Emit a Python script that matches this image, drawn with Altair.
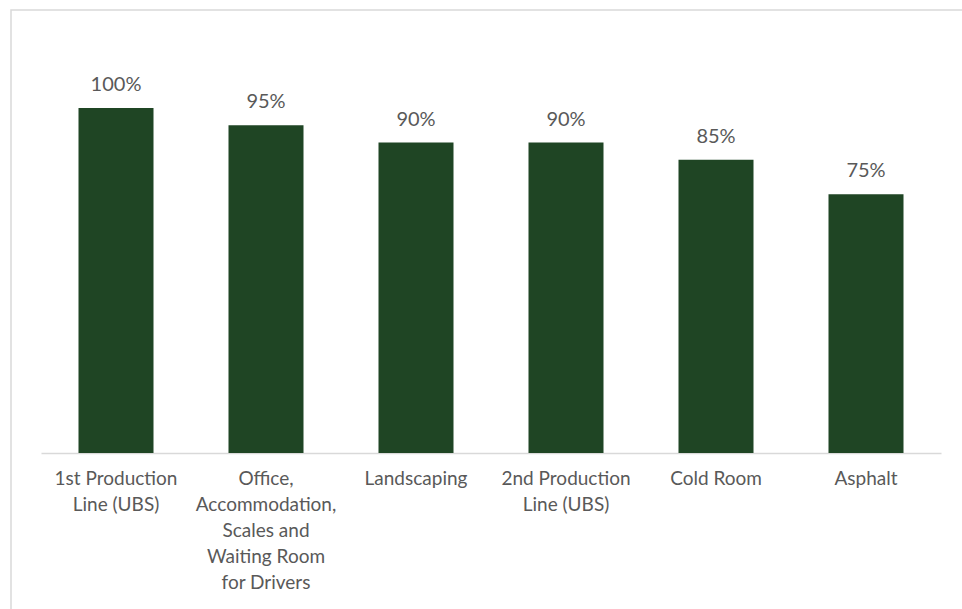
import altair as alt
import pandas as pd

categories = ["1st Production Line (UBS)",
              "Office, Accommodation, Scales and Waiting Room for Drivers",
              "Landscaping", "2nd Production Line (UBS)", "Cold Room", "Asphalt"]
label_lines = ["1st Production|Line (UBS)",
               "Office,|Accommodation,|Scales and|Waiting Room|for Drivers",
               "Landscaping", "2nd Production|Line (UBS)", "Cold Room", "Asphalt"]
values = [1.00, 0.95, 0.90, 0.90, 0.85, 0.75]

df = pd.DataFrame({"cat": categories, "val": values, "lab": label_lines})

label_map = {c: l for c, l in zip(categories, label_lines)}
expr = "split(" + str(label_map).replace("'", '"') + "[datum.value], '|')"

FONT = "Lato"
GREY = "#595959"

x = alt.X("cat:N", sort=categories, title=None,
          scale=alt.Scale(paddingInner=0.5, paddingOuter=0.25),
          axis=alt.Axis(labelExpr=expr, labelAngle=0, labelFont=FONT,
                        labelFontSize=19, labelColor=GREY, labelLineHeight=26,
                        labelPadding=16, ticks=False, domainColor="#d9d9d9",
                        domainWidth=1.5, labelLimit=300, labelBaseline="top"))
y = alt.Y("val:Q", title=None, scale=alt.Scale(domain=[0, 1.2], nice=False),
          axis=None)

border = alt.Chart(pd.DataFrame({"a": [0]})).mark_rect(
    fill=None, stroke="#d9d9d9", strokeWidth=1.5
).encode(x=alt.value(-30), x2=alt.value(935), y=alt.value(-29), y2=alt.value(600))

bars = alt.Chart(df).mark_bar(color="#1F4524").encode(x=x, y=y)
text = alt.Chart(df).mark_text(dy=-17, baseline="alphabetic", font=FONT,
                               fontSize=20, color=GREY).encode(
    x=alt.X("cat:N", sort=categories), y="val:Q",
    text=alt.Text("val:Q", format=".0%"))

chart = alt.layer(border, bars, text).properties(
    width=900, height=414,
    autosize=alt.AutoSizeParams(type="none"),
    padding={"left": 41, "top": 39, "right": 21, "bottom": 156},
    background="white",
).configure_view(stroke=None)

chart.save("out.html", embed_options={"renderer": "svg", "actions": False})
